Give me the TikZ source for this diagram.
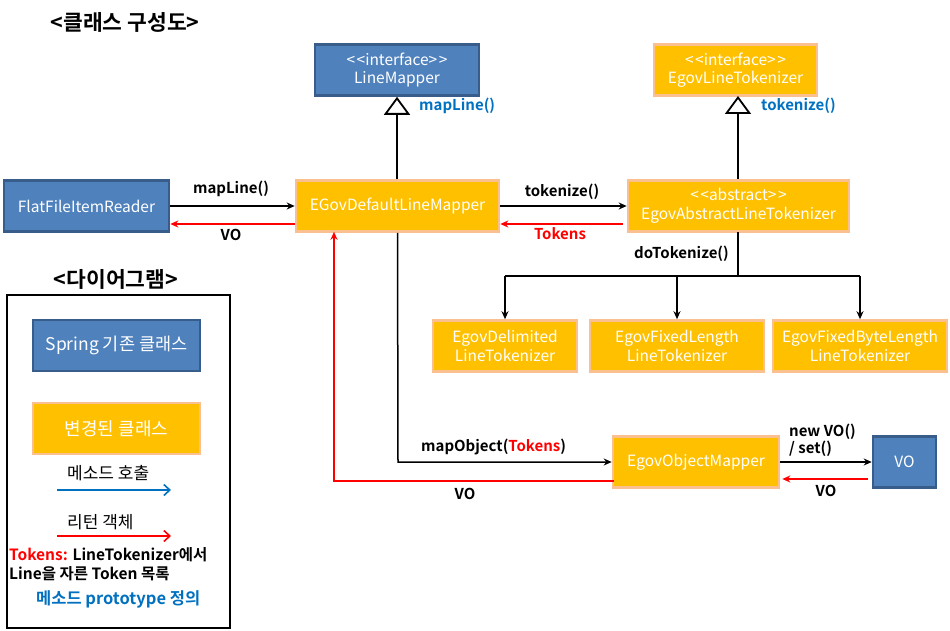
\documentclass[tikz,border=0pt]{standalone}
\usepackage{fontspec}
\setmainfont{Noto Sans CJK KR}[BoldFont={Noto Sans CJK KR Bold}]
\usetikzlibrary{arrows.meta,calc}
\definecolor{bfill}{HTML}{4F81BD}
\definecolor{bdraw}{HTML}{385D8A}
\definecolor{ofill}{HTML}{FFC000}
\definecolor{odraw}{HTML}{FAC090}
\definecolor{mblue}{HTML}{0070C0}
\definecolor{rred}{HTML}{FF0000}
\newcommand{\lts}{<\kern1.5pt<}
\newcommand{\gts}{>\kern1.5pt>}
\tikzset{
  box/.style={rectangle, line width=2.6pt, text=white, align=center, inner sep=0pt,
    font=\fontsize{15.5}{18.5}\selectfont},
  bluebox/.style={box, fill=bfill, draw=bdraw},
  orangebox/.style={box, fill=ofill, draw=odraw},
  call/.style={line width=1.5pt, -{Stealth[length=8pt,width=7pt]}},
  ret/.style={line width=1.5pt, draw=rred, -{Stealth[length=8pt,width=7pt]}},
  inherit/.style={line width=1.8pt, -{Triangle[open,length=18pt,width=26pt]}},
  lbl/.style={font=\fontsize{15}{17}\selectfont\bfseries, inner sep=1pt},
  ttl/.style={font=\fontsize{21.5}{23}\selectfont\bfseries, inner sep=0pt},
}
\begin{document}
\begin{tikzpicture}[x=1pt,y=-1pt]
\useasboundingbox (0,0) rectangle (950,631);
% title
\node[ttl] (title) at (125,22) {<클래스 구성도>};
% boxes
\node[bluebox, minimum width=164, minimum height=51] (lm) at (397,70) {\lts interface\gts\\LineMapper};
\node[orangebox, minimum width=163, minimum height=51] (elt) at (735.5,70) {\lts interface\gts\\EgovLineTokenizer};
\node[bluebox, minimum width=165, minimum height=51] (ffr) at (86.5,206) {FlatFileItemReader};
\node[orangebox, minimum width=203, minimum height=51] (edlm) at (397.5,206) {EGovDefaultLineMapper};
\node[orangebox, minimum width=221, minimum height=51] (ealt) at (738.5,206) {\lts abstract\gts\\EgovAbstractLineTokenizer};
\node[orangebox, minimum width=144, minimum height=51] (edel) at (505,346) {EgovDelimited\\LineTokenizer};
\node[orangebox, minimum width=174, minimum height=51] (efl) at (677,346) {EgovFixedLength\\LineTokenizer};
\node[orangebox, minimum width=174, minimum height=51] (efbl) at (860,346) {EgovFixedByteLength\\LineTokenizer};
\node[orangebox, minimum width=166, minimum height=51] (om) at (696,462) {EgovObjectMapper};
\node[bluebox, minimum width=63, minimum height=51] (vo) at (904.5,462) {VO};
% inheritance
\draw[inherit] (edlm.north -| lm.south) -- (lm.south);
\draw[inherit] (ealt.north -| 738,0) -- (738,96);
\node[lbl, text=mblue, anchor=west] (ml2) at (418,106) {mapLine()};
\node[lbl, text=mblue, anchor=west] (tk2) at (760,106) {tokenize()};
% calls
\draw[call] (ffr.east) -- (edlm.west);
\node[lbl] (ml1) at (231,189) {mapLine()};
\draw[ret] ([yshift=-18pt]edlm.west) -- ([yshift=-18pt]ffr.east);
\node[lbl] (vo1) at (231,235) {VO};
\draw[call] (edlm.east) -- (ealt.west);
\node[lbl] (tk1) at (562,192) {tokenize()};
\draw[ret] ([yshift=-18pt,xshift=-4pt]ealt.west) -- ([yshift=-18pt]edlm.east);
\node[lbl, text=rred] (tok1) at (560,234) {Tokens};
% doTokenize tree
\coordinate (br) at (738,276);
\draw[line width=1.8pt] (738,232) -- (br);
\node[lbl, anchor=east] (dt) at (730,254) {doTokenize()};
\draw[line width=1.5pt] (505,276) -- (860,276);
\draw[call] (505,276) -- (edel.north);
\draw[call] (677,276) -- (efl.north);
\draw[call] (860,276) -- (efbl.north);
% mapObject
\coordinate (mo) at (398,462);
\draw[call] (edlm.south) -- (mo) -- (om.west);
\node[lbl, anchor=west] (mol) at (420,447) {mapObject(\textcolor{rred}{Tokens})};
\coordinate (vx) at (334,0);
\draw[ret] ([yshift=-19pt,xshift=2pt]om.west) -| ([yshift=1pt]edlm.south -| vx);
\node[lbl] (vo2) at (465,494) {VO};
% VO
\draw[call] (om.east) -- (vo.west);
\node[lbl, anchor=west, align=left] (nvo) at (788,440) {new VO()\\/ set()};
\draw[ret] ([yshift=-17pt,xshift=-4pt]vo.west) -- ([yshift=-17pt,xshift=2pt]om.east);
\node[lbl] (vo3) at (826,491) {VO};
% legend
\node[ttl] (lt) at (116,279) {<다이어그램>};
\node[draw, line width=2.5pt, minimum width=223, minimum height=333, inner sep=0pt] (frame) at (118.5,461.5) {};
\node[bluebox, minimum width=167, minimum height=51, font=\fontsize{17.5}{20}\selectfont] (lb) at (116.5,345.5) {Spring 기존 클래스};
\node[orangebox, minimum width=167, minimum height=51, font=\fontsize{18}{20}\selectfont] (lo) at (116.5,428.5) {변경된 클래스};
\node[font=\fontsize{17}{19}\selectfont, anchor=west, inner sep=0pt] (lcall) at (67,473) {메소드 호출};
\coordinate (a1) at (57,490); \coordinate (a2) at (171,490);
\draw[line width=1.6pt, mblue, -{Straight Barb[length=6pt,width=11pt]}] (a1) -- (a2);
\node[font=\fontsize{17}{19}\selectfont, anchor=west, inner sep=0pt] (lret) at (67,522) {리턴 객체};
\coordinate (b1) at (57,536); \coordinate (b2) at (171,536);
\draw[line width=1.6pt, rred, -{Straight Barb[length=6pt,width=11pt]}] (b1) -- (b2);
\node[lbl, anchor=west, align=left, font=\fontsize{15.5}{19}\selectfont\bfseries, inner sep=0pt] (ltok) at (9,564.5) {\textcolor{rred}{Tokens:} LineTokenizer에서\\Line을 자른 Token 목록};
\node[lbl, text=mblue, anchor=west, inner sep=0pt, font=\fontsize{16.5}{18}\selectfont\bfseries] (lproto) at (36,599) {메소드 prototype 정의};
\end{tikzpicture}
\end{document}
